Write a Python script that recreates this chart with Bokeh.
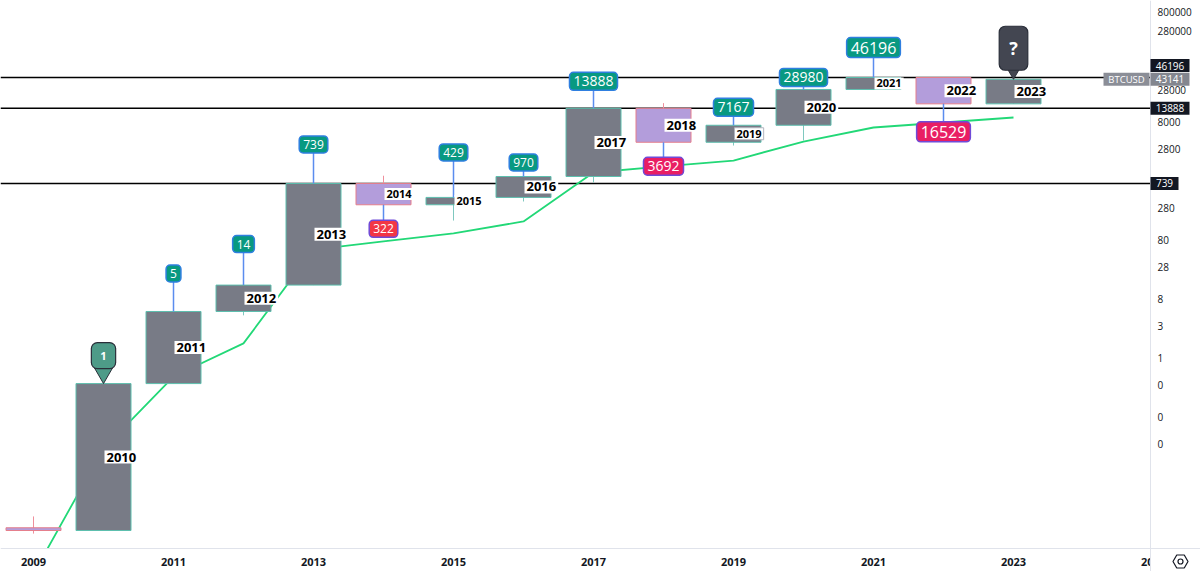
import math
from bokeh.plotting import figure
from bokeh.models import Label, Range1d
from bokeh.embed import file_html
from bokeh.resources import INLINE
from bokeh.core.properties import value

# ---------------- data ----------------
years  = [2009, 2010, 2011, 2012, 2013, 2014, 2015, 2016, 2017, 2018, 2019, 2020, 2021, 2022, 2023]
opens  = [0.00108, 0.00097, 0.3, 5.0, 14.0, 739, 322, 429, 970, 13888, 3692, 7167, 28980, 46196, 16529]
highs  = [0.00168, 0.3, 5.0, 14.0, 739, 1000, 429, 970, 13888, 17000, 7167, 28980, 46196, 46196, 43141]
lows   = [0.00086, 0.00097, 0.3, 4.3, 14.0, 322, 174, 366, 767, 3692, 3250, 3950, 28980, 16529, 16529]
closes = [0.00097, 0.3, 5.0, 14.0, 739, 322, 429, 970, 13888, 3692, 7167, 28980, 46196, 16529, 43141]

ma_values = [0.00018, 0.0238, 0.395, 1.44, 56, 77, 105, 168, 1135, 1435, 1810, 3800, 6570, 7990, 9700]

note_years  = [2011, 2012, 2013, 2014, 2015, 2016, 2017, 2018, 2019, 2020, 2021, 2022]
note_values = [5, 14, 739, 322, 429, 970, 13888, 3692, 7167, 28980, 46196, 16529]
note_is_low = [False, False, False, True, False, False, False, True, False, False, False, True]

level_values = [46196, 13888, 739]
last_price = 43141
symbol = "BTCUSD"

y_tick_values = [0.028, 0.08, 0.28, 0.8, 2.8, 8, 28, 80, 280, 800, 2800, 8000, 28000, 80000, 280000, 800000]
y_tick_labels = ["0", "0", "0", "1", "3", "8", "28", "80", "280", "800", "2800", "8000", "28000", "80000", "280000", "800000"]
x_tick_values = [2009, 2011, 2013, 2015, 2017, 2019, 2021, 2023, 2025]
x_tick_labels = ["2009", "2011", "2013", "2015", "2017", "2019", "2021", "2023", "2025"]

# ---------------- layout (pixel geometry) ----------------
W, H = 1200, 571
PANE_R = 1150          # right edge of the chart pane
AXIS_Y = 548           # time axis line
PPD = 59.0             # pixels per decade
LOG_TOP = 5.970
X0_PX, PX_YEAR = 33, 70.0
FONT = "Open Sans"

def x_of(px):
    return 2009 + (px - X0_PX) / PX_YEAR

def v_of(py):
    return 10 ** (LOG_TOP - py / PPD)

def shift(v, px):
    """value px pixels above v on the log scale"""
    return v * 10 ** (px / PPD)

p = figure(width=W, height=H, y_axis_type="log", output_backend="svg",
           toolbar_location=None, x_axis_location=None, y_axis_location=None,
           x_range=Range1d(x_of(0), x_of(W)),
           y_range=Range1d(v_of(H), v_of(0)),
           min_border=0)
p.outline_line_color = None
p.xgrid.visible = False
p.ygrid.visible = False
p.background_fill_color = "white"
p.border_fill_color = "white"

# horizontal levels (chart pane only)
n_lv = len(level_values)
p.segment(x0=[x_of(0)] * n_lv, x1=[x_of(PANE_R)] * n_lv, y0=level_values, y1=level_values,
          line_color="#000000", line_width=1.6)

# moving-average line
p.line(years, ma_values, line_color="#22d877", line_width=1.8)

# candles
bull = [c >= o for o, c in zip(opens, closes)]
wick_col = ["#7fc8bf" if b else "#ef8f9c" for b in bull]
fill_col = ["#787b86" if b else "#b39ddb" for b in bull]
edge_col = ["#5dbfae" if b else "#e57f8c" for b in bull]
p.segment(x0=years, y0=lows, x1=years, y1=highs, line_color=wick_col, line_width=1)
p.vbar(x=years, width=55 / PX_YEAR,
       bottom=[min(o, c) for o, c in zip(opens, closes)],
       top=[max(o, c) for o, c in zip(opens, closes)],
       fill_color=fill_col, line_color=edge_col, line_width=1)

# callout connectors
note_offsets = [38, 41, 39, -24, 45, 14, 27, -24, 18, 12, 30, -28]
note_sizes = [12, 12, 12, 12, 12, 12, 14, 14, 14, 14, 16, 16]
p.segment(x0=note_years, y0=note_values, x1=note_years,
          y1=[shift(v, off) for v, off in zip(note_values, note_offsets)],
          line_color="#5b8def", line_width=1.5)

# balloon pointers
def pointer(year, v, fill, tri_size):
    p.scatter(x=[year], y=[shift(v, tri_size * 0.866 * 2 / 3)], marker="inverted_triangle",
              size=tri_size, fill_color=fill, line_color="#2a2e39", line_width=1)

pointer(2010, closes[1], "#4e9b88", 18)
pointer(2023, last_price, "#434651", 14)

# ---------------- masks: clip the pane at the time axis and the price scale ----------------
p.quad(left=[x_of(0), x_of(PANE_R + 0.5)], right=[x_of(W), x_of(W)],
       bottom=[v_of(H), v_of(H)], top=[v_of(AXIS_Y + 0.5), v_of(0)],
       fill_color="white", line_color=None)

# time axis
p.segment(x0=[x_of(0)], x1=[x_of(W)], y0=[v_of(AXIS_Y)], y1=[v_of(AXIS_Y)],
          line_color="#e0e3eb", line_width=1)
p.text(x=x_tick_values, y=[v_of(561)] * len(x_tick_values), text=x_tick_labels,
       text_align="center", text_baseline="middle", text_font=value(FONT),
       text_font_size="11px", text_font_style="bold", text_color="#131722")
p.quad(left=[x_of(PANE_R + 0.5)], right=[x_of(W)], bottom=[v_of(H)], top=[v_of(AXIS_Y + 0.5)],
       fill_color="white", line_color=None)
p.segment(x0=[x_of(PANE_R)], x1=[x_of(PANE_R)], y0=[v_of(H)], y1=[v_of(0)],
          line_color="#e0e3eb", line_width=1)

# price scale ticks
tick_y = [shift(v, -8) if v == max(y_tick_values) else v for v in y_tick_values]
p.text(x=[x_of(1157)] * len(y_tick_values), y=tick_y, text=y_tick_labels,
       text_align="left", text_baseline="middle", text_font=value(FONT),
       text_font_size="10px", text_color="#131722")

# settings icon
p.scatter(x=[x_of(1180)], y=[v_of(561)], marker="hex", size=15, fill_color=None,
          line_color="#131722", line_width=1.2)
p.scatter(x=[x_of(1180)], y=[v_of(561)], marker="circle", size=5, fill_color=None,
          line_color="#131722", line_width=1.2)

# price-scale labels (boxes + text)
box_text = [str(v) for v in level_values] + [str(last_price), symbol]
box_y = [shift(level_values[0], 12), level_values[1], level_values[2], last_price, last_price]
box_w = [39, 39, 28, 39, 46]
box_left = [PANE_R, PANE_R, PANE_R, PANE_R, PANE_R - 47]
box_fill = ["#131722", "#131722", "#131722", "#83868f", "#8b8e97"]
box_fs = ["10px", "10px", "10px", "10px", "9.5px"]
box_cx = [x_of(l + w / 2) for l, w in zip(box_left, box_w)]
p.rect(x=box_cx, y=box_y, width=box_w, height=[13] * 5, width_units="screen",
       height_units="screen", fill_color=box_fill, line_color=None)
p.text(x=box_cx, y=box_y, text=box_text, text_align="center", text_baseline="middle",
       text_font=value(FONT), text_font_size=box_fs, text_color="white")

# ---------------- annotations ----------------
for yr, v, low, off, fs in zip(note_years, note_values, note_is_low, note_offsets, note_sizes):
    if low:
        fill = "#f23645" if v < 1000 else "#e91e63"
        border = "#6f4bd8"
    else:
        fill = "#089981"
        border = "#2f7fe0"
    p.add_layout(Label(x=yr, y=shift(v, off), text=str(v), text_align="center",
                       text_baseline="middle", text_color="white", text_font=FONT,
                       text_font_size=f"{fs}px", background_fill_color=fill,
                       border_line_color=border, border_line_width=1.5,
                       padding=4, border_radius=4))

def balloon(year, v, text, fill, fs, pad, box_off):
    p.add_layout(Label(x=year, y=shift(v, box_off), text=text, text_align="center",
                       text_baseline="middle", text_color="white", text_font=FONT,
                       text_font_style="bold", text_font_size=f"{fs}px",
                       background_fill_color=fill, border_line_color="#2a2e39",
                       border_line_width=1.2, padding=pad, border_radius=6))

balloon(2010, closes[1], "1", "#4e9b88", 11, 9, 28)
balloon(2023, last_price, "?", "#434651", 18, 10, 31)

small_years = {2014, 2015, 2019, 2021}
for yr, o, c in zip(years, opens, closes):
    if yr == 2009:
        continue
    small = yr in small_years
    p.add_layout(Label(x=yr, y=math.sqrt(o * c), text=str(yr), text_align="left",
                       text_baseline="middle", x_offset=1, text_color="#000000",
                       text_font=FONT, text_font_style="bold",
                       text_font_size="11px" if small else "13px",
                       background_fill_color="white",
                       border_line_color="#b2b5be" if yr == 2019 else None,
                       padding=2))

open("out.html", "w").write(file_html(p, INLINE))
